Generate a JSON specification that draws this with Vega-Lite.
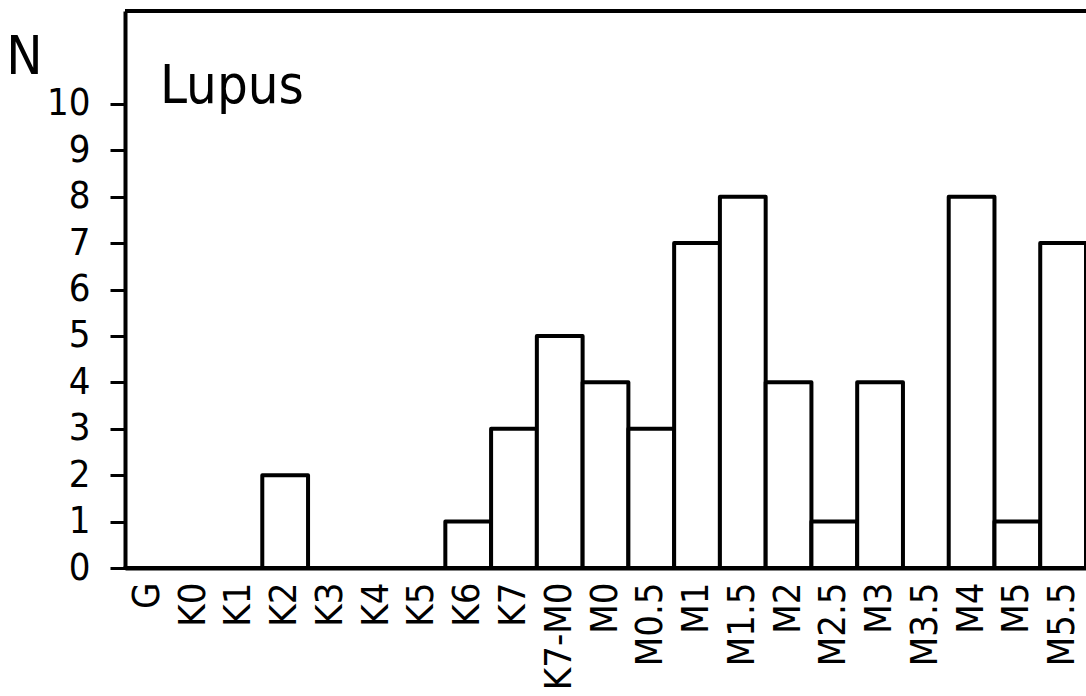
{
  "$schema": "https://vega.github.io/schema/vega-lite/v6.json",
  "width": 961,
  "height": 557,
  "autosize": {"type": "none"},
  "padding": {"left": 125, "top": 11, "right": 0, "bottom": 128},
  "background": "white",
  "title": {"text": "Lupus", "anchor": "start", "frame": "group", "orient": "top", "offset": 0, "dx": 35, "dy": 148, "baseline": "alphabetic", "font": "DejaVu Sans Condensed", "fontSize": 54, "fontWeight": "normal", "color": "black"},
  "data": {"values": [
    {"type": "G", "N": 0},
    {"type": "K0", "N": 0},
    {"type": "K1", "N": 0},
    {"type": "K2", "N": 2},
    {"type": "K3", "N": 0},
    {"type": "K4", "N": 0},
    {"type": "K5", "N": 0},
    {"type": "K6", "N": 1},
    {"type": "K7", "N": 3},
    {"type": "K7-M0", "N": 5},
    {"type": "M0", "N": 4},
    {"type": "M0.5", "N": 3},
    {"type": "M1", "N": 7},
    {"type": "M1.5", "N": 8},
    {"type": "M2", "N": 4},
    {"type": "M2.5", "N": 1},
    {"type": "M3", "N": 4},
    {"type": "M3.5", "N": 0},
    {"type": "M4", "N": 8},
    {"type": "M5", "N": 1},
    {"type": "M5.5", "N": 7}
  ]},
  "layer": [
    {
      "mark": {"type": "bar", "fill": "white", "stroke": "black", "strokeWidth": 4, "strokeJoin": "round"},
      "encoding": {
        "x": {"field": "type", "type": "nominal", "sort": null,
          "scale": {"paddingInner": 0, "paddingOuter": 0},
          "axis": {"title": null, "labelAngle": -90, "ticks": false, "domain": true, "domainWidth": 4, "domainColor": "black", "labelPadding": 14, "labelFont": "DejaVu Sans Condensed", "labelFontSize": 38, "labelColor": "black", "grid": false}},
        "y": {"field": "N", "type": "quantitative",
          "scale": {"domain": [0, 12], "nice": false},
          "axis": {"values": [0,1,2,3,4,5,6,7,8,9,10], "grid": false, "domain": true, "domainWidth": 4, "domainColor": "black", "ticks": true, "tickSize": 15, "tickWidth": 3, "tickColor": "black", "labelFont": "DejaVu Sans Condensed", "labelFontSize": 38, "labelPadding": 20, "labelColor": "black", "title": "N", "titleAngle": 0, "titleX": -101, "titleY": 46, "titleAlign": "center", "titleBaseline": "middle", "titleFont": "DejaVu Sans Condensed", "titleFontSize": 54, "titleFontWeight": "normal", "titleColor": "black"}}
      }
    },
    {
      "mark": {"type": "rule", "color": "black", "strokeWidth": 4},
      "encoding": {"y": {"datum": 12}}
    }
  ],
  "config": {"view": {"stroke": null}}
}
